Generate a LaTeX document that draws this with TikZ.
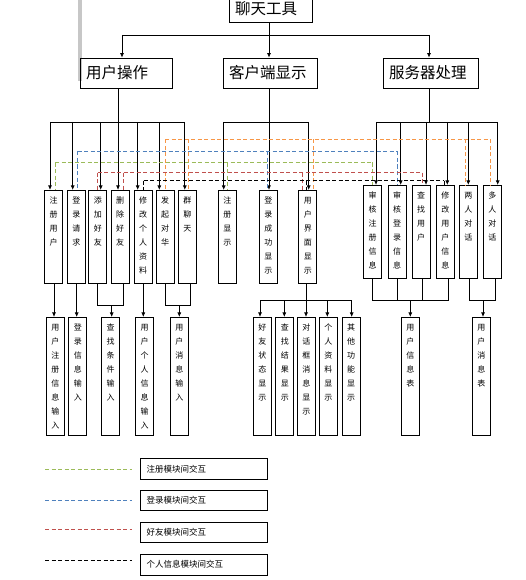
\documentclass[tikz,border=0pt]{standalone}
\usepackage{fontspec}
\setmainfont{Noto Sans CJK SC}
\usetikzlibrary{arrows.meta}

\definecolor{cor_orange}{HTML}{F79646}
\definecolor{cor_blue}{HTML}{4F81BD}
\definecolor{cor_green}{HTML}{9BBB59}
\definecolor{cor_red}{HTML}{C0504D}

\newcommand{\vtxt}[2]{\parbox[c][#1][t]{12pt}{\centering\fontsize{8pt}{14pt}\selectfont\rule{0pt}{13pt}#2}}

\begin{document}
\begin{tikzpicture}[x=1pt,y=-1pt]
        \tikzset{
            ret/.style={
                draw,
                line width=0.8pt,
                inner sep=0pt,
                minimum width=18pt
            },
            topo/.style={
                draw,
                line width=0.8pt,
                inner ysep=0pt,
                inner xsep=6pt,
                minimum height=30pt,
                align=left,
                font=\fontsize{15.5pt}{18pt}\selectfont
            },
            leg/.style={
                draw,
                line width=0.8pt,
                inner xsep=6pt,
                text width=114.6pt,
                minimum height=20.5pt,
                align=left,
                font=\fontsize{8.5pt}{10pt}\selectfont
            },
            lig/.style={line width=0.7pt},
            seta/.style={lig, -{Latex[length=4.5pt,width=4pt]}},
            tr/.style={line width=0.85pt, dash pattern=on 4pt off 2.5pt, draw=#1}
        }
        \useasboundingbox (0,0) rectangle (525,580);

        \fill[black!22] (78,0) rectangle (82,81);

        \node[topo, minimum width=83pt, minimum height=27pt, text width=71pt] (ltgj) at (270.5,9) {聊天工具};

        \node[topo, text width=80pt] (yhcz) at (126,73) {用户操作};
        \node[topo, text width=82pt] (khd) at (270,73) {客户端显示};
        \node[topo, text width=83pt] (fwq) at (430.5,73) {服务器处理};

        %CAIXAS DO USUARIO
        \node[ret] (zc) at (53.5,236.8) {\vtxt{93pt}{注\\册\\用\\户}};
        \node[ret] (dl) at (76.3,236.8) {\vtxt{93pt}{登\\录\\请\\求}};
        \node[ret] (tj) at (97.8,236.8) {\vtxt{93pt}{添\\加\\好\\友}};
        \node[ret] (sc) at (120,236.8) {\vtxt{93pt}{删\\除\\好\\友}};
        \node[ret] (xg) at (143,236.8) {\vtxt{93pt}{修\\改\\个\\人\\资\\料}};
        \node[ret] (fq) at (165,236.8) {\vtxt{93pt}{发\\起\\对\\华}};
        \node[ret] (ql) at (187.3,236.8) {\vtxt{93pt}{群\\聊\\天}};

        %CAIXAS DO CLIENTE
        \node[ret] (zcxs) at (227.3,236.8) {\vtxt{93pt}{注\\册\\显\\示}};
        \node[ret] (dlcg) at (268.3,236.8) {\vtxt{93pt}{登\\录\\成\\功\\显\\示}};
        \node[ret] (yhjm) at (307.8,236.8) {\vtxt{93pt}{用\\户\\界\\面\\显\\示}};

        %CAIXAS DO SERVIDOR
        \node[ret] (shzc) at (372.5,231.8) {\vtxt{93pt}{审\\核\\注\\册\\信\\息}};
        \node[ret] (shdl) at (397,231.8) {\vtxt{93pt}{审\\核\\登\\录\\信\\息}};
        \node[ret] (czyh) at (421,231.8) {\vtxt{93pt}{查\\找\\用\\户}};
        \node[ret] (xgyh) at (445.3,231.8) {\vtxt{93pt}{修\\改\\用\\户\\信\\息}};
        \node[ret] (lr) at (468.3,231.8) {\vtxt{93pt}{两\\人\\对\\话}};
        \node[ret] (dr) at (492.3,231.8) {\vtxt{93pt}{多\\人\\对\\话}};

        %CAIXAS DE BAIXO
        \node[ret] (yhzcxx) at (55.3,376.2) {\vtxt{117.7pt}{用\\户\\注\\册\\信\\息\\输\\入}};
        \node[ret] (dlxx) at (77.8,376.2) {\vtxt{117.7pt}{登\\录\\信\\息\\输\\入}};
        \node[ret] (cztj) at (110.5,376.2) {\vtxt{117.7pt}{查\\找\\条\\件\\输\\入}};
        \node[ret] (grxx) at (144.5,376.2) {\vtxt{117.7pt}{用\\户\\个\\人\\信\\息\\输\\入}};
        \node[ret] (yhxx) at (179.3,376.2) {\vtxt{117.7pt}{用\\户\\消\\息\\输\\入}};
        \node[ret] (hyzt) at (262.3,376.2) {\vtxt{117.7pt}{好\\友\\状\\态\\显\\示}};
        \node[ret] (czjg) at (284.8,376.2) {\vtxt{117.7pt}{查\\找\\结\\果\\显\\示}};
        \node[ret] (dhk) at (306.3,376.2) {\vtxt{117.7pt}{对\\话\\框\\消\\息\\显\\示}};
        \node[ret] (grzl) at (328.3,376.2) {\vtxt{117.7pt}{个\\人\\资\\料\\显\\示}};
        \node[ret] (qtgn) at (351,376.2) {\vtxt{117.7pt}{其\\他\\功\\能\\显\\示}};
        \node[ret] (yhxxb) at (410.3,376.2) {\vtxt{117.7pt}{用\\户\\信\\息\\表}};
        \node[ret] (xxb) at (481.3,376.2) {\vtxt{117.7pt}{用\\户\\消\\息\\表}};

        \coordinate (b0) at (0,35);
        \coordinate (b1) at (0,122);
        \coordinate (b2) at (0,305.5);
        \coordinate (b3) at (0,300.5);

        %LINHAS DO TOPO
        \draw[lig] ([xshift=-1.5pt]ltgj.south) -- ([xshift=-1.5pt]ltgj.south |- b0);
        \draw[lig] ([xshift=-4pt]yhcz.north |- b0) -- ([xshift=-1.5pt]fwq.north |- b0);
        \foreach \n/\s in {yhcz/-4, khd/-1, fwq/-1.5} {
            \draw[seta] ([xshift=\s pt]\n.north |- b0) -- ([xshift=\s pt]\n.north);
        }

        %LINHAS DO USUARIO
        \draw[lig] ([xshift=-8pt]yhcz.south) -- ([xshift=-8pt]yhcz.south |- b1);
        \draw[lig] ([xshift=-3.5pt]zc.north |- b1) -- ([xshift=-2.5pt]ql.north |- b1);
        \foreach \n/\s in {zc/-3.5, dl/-3.6, tj/2.9, sc/-2, xg/-5.3, fq/-5.7, ql/-2.5} {
            \draw[seta] ([xshift=\s pt]\n.north |- b1) -- ([xshift=\s pt]\n.north);
        }

        %LINHAS DO CLIENTE
        \draw[lig] ([xshift=-1pt]khd.south) -- ([xshift=-1pt]khd.south |- b1);
        \draw[lig] ([xshift=-3.6pt]zcxs.north |- b1) -- ([xshift=0.9pt]yhjm.north |- b1);
        \foreach \n/\s in {zcxs/-3.6, dlcg/0.7, yhjm/0.9} {
            \draw[seta] ([xshift=\s pt]\n.north |- b1) -- ([xshift=\s pt]\n.north);
        }

        %LINHAS DO SERVIDOR
        \draw[lig] ([xshift=-1.5pt]fwq.south) -- ([xshift=-1.5pt]fwq.south |- b1);
        \draw[lig] ([xshift=3.5pt]shzc.north |- b1) -- ([xshift=5.4pt]dr.north |- b1);
        \foreach \n/\s in {shzc/3.5, shdl/3.7, czyh/5, xgyh/2, lr/0, dr/5.4} {
            \draw[seta] ([xshift=\s pt]\n.north |- b1) -- ([xshift=\s pt]\n.north);
        }

        %LINHAS DE BAIXO
        \draw[seta] ([xshift=0.5pt]zc.south) -- ([xshift=0.5pt]zc.south |- yhzcxx.north);
        \draw[seta] ([xshift=0.4pt]dl.south) -- ([xshift=0.4pt]dl.south |- dlxx.north);
        \draw[seta] ([xshift=0.3pt]xg.south) -- ([xshift=0.3pt]xg.south |- grxx.north);
        \draw[lig] (tj.south) |- ([xshift=3.3pt]sc.south |- b2) -- ([xshift=3.3pt]sc.south);
        \draw[seta] ([xshift=1.2pt]cztj.north |- b2) -- ([xshift=1.2pt]cztj.north);
        \draw[lig] (fq.south) |- ([xshift=3.4pt]ql.south |- b2) -- ([xshift=3.4pt]ql.south);
        \draw[seta] (yhxx.north |- b2) -- (yhxx.north);

        \draw[lig] ([xshift=-1.8pt]yhjm.south) -- ([xshift=-1.8pt]yhjm.south |- b3);
        \draw[lig] ([xshift=-2.3pt]hyzt.north |- b3) -- ([xshift=0.7pt]qtgn.north |- b3);
        \foreach \n/\s in {hyzt/-2.3, czjg/-0.5, dhk/-0.3, grzl/-1, qtgn/0.7} {
            \draw[seta] ([xshift=\s pt]\n.north |- b3) -- ([xshift=\s pt]\n.north);
        }

        \draw[lig] (shzc.south) |- ([xshift=3.4pt]xgyh.south |- b3) -- ([xshift=3.4pt]xgyh.south);
        \foreach \n/\s in {shdl/0, czyh/1.7} {
            \draw[lig] ([xshift=\s pt]\n.south) -- ([xshift=\s pt]\n.south |- b3);
        }
        \draw[seta] (yhxxb.north |- b3) -- (yhxxb.north);
        \draw[lig] ([xshift=1.4pt]lr.south) |- ([xshift=2.7pt]dr.south |- b3) -- ([xshift=2.7pt]dr.south);
        \draw[seta] ([xshift=1.7pt]xxb.north |- b3) -- ([xshift=1.7pt]xxb.north);

        %TRACEJADAS
        \coordinate (dor) at (0,139.3);
        \coordinate (dbl) at (0,151.5);
        \coordinate (dgr) at (0,162.5);
        \coordinate (drd) at (0,172.7);
        \coordinate (dbk) at (0,180.5);

        \draw[tr=cor_orange] (fq.north |- dor) -- ([xshift=-1.6pt]dr.north |- dor);
        \foreach \n/\s in {fq/0, ql/1, yhjm/5.5, lr/-2.6, dr/-1.6} {
            \draw[tr=cor_orange] ([xshift=\s pt]\n.north |- dor) -- ([xshift=\s pt]\n.north);
        }
        \draw[tr=cor_blue] ([xshift=1.4pt]dl.north |- dbl) -- ([xshift=0.7pt]shdl.north |- dbl);
        \foreach \n/\s in {dl/1.4, dlcg/-0.6, shdl/0.7} {
            \draw[tr=cor_blue] ([xshift=\s pt]\n.north |- dbl) -- ([xshift=\s pt]\n.north);
        }
        \draw[tr=cor_green] ([xshift=1.5pt]zc.north |- dgr) -- (shzc.north |- dgr);
        \foreach \n/\s in {zc/1.5, zcxs/0, shzc/0} {
            \draw[tr=cor_green] ([xshift=\s pt]\n.north |- dgr) -- ([xshift=\s pt]\n.north);
        }
        \draw[tr=cor_red] (tj.north |- drd) -- ([xshift=1.3pt]czyh.north |- drd);
        \foreach \n/\s in {tj/0, sc/3.3, yhjm/-5.1, czyh/1.3} {
            \draw[tr=cor_red] ([xshift=\s pt]\n.north |- drd) -- ([xshift=\s pt]\n.north);
        }
        \draw[tr=black] ([xshift=0.7pt]xg.north |- dbk) -- ([xshift=-1pt]xgyh.north |- dbk);
        \foreach \n/\s in {xg/0.7, yhjm/-1.1, xgyh/-1} {
            \draw[tr=black] ([xshift=\s pt]\n.north |- dbk) -- ([xshift=\s pt]\n.north);
        }

        %LEGENDA
        \foreach \c/\t/\yl/\yb [count=\i] in {cor_green/注册模块间交互/469.3/468.8, cor_blue/登录模块间交互/500/500.5, cor_red/好友模块间交互/529.3/532.2, black/个人信息模块间交互/560/564.7} {
            \node[leg] (leg\i) at (204,\yb) {\t};
            \draw[tr=\c] (45,\yl) -- (131.7,\yl);
        }

    \end{tikzpicture}
\end{document}
